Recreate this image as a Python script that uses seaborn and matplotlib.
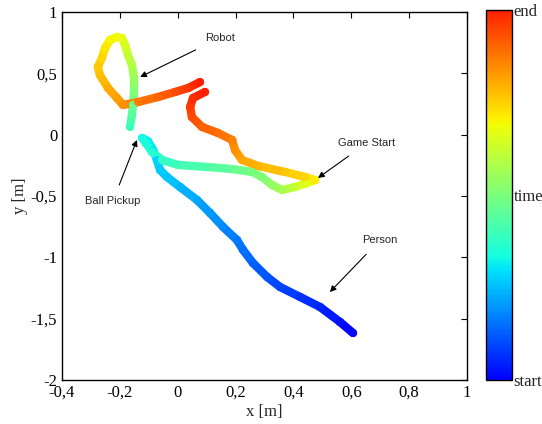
import numpy as np
import pandas as pd
import matplotlib
matplotlib.use("Agg")
import matplotlib.pyplot as plt
import seaborn as sns
from matplotlib.collections import LineCollection
from matplotlib.colors import ListedColormap, Normalize
from matplotlib.cm import ScalarMappable

# person trajectory (x, y in metres, t = normalised time)
person_x = [0.606, 0.561, 0.492, 0.423, 0.354, 0.309, 0.260, 0.226, 0.205, 0.157,
            0.112, 0.067, 0.008, -0.037, -0.061, -0.072, -0.085, -0.103, -0.123, -0.110,
            -0.089, -0.054, 0.001, 0.105, 0.188, 0.257, 0.291, 0.326, 0.361, 0.405,
            0.447, 0.475, 0.440, 0.371, 0.278, 0.222, 0.198, 0.188, 0.139, 0.084,
            0.049, 0.043, 0.053, 0.094]
person_y = [-1.617, -1.527, -1.405, -1.323, -1.242, -1.160, -1.046, -0.940, -0.859, -0.753,
            -0.639, -0.533, -0.427, -0.345, -0.288, -0.206, -0.125, -0.052, -0.027, -0.068,
            -0.141, -0.206, -0.247, -0.264, -0.280, -0.304, -0.345, -0.410, -0.451, -0.427,
            -0.394, -0.370, -0.345, -0.304, -0.255, -0.206, -0.125, -0.043, 0.014, 0.063,
            0.144, 0.226, 0.299, 0.348]
person_t = [0.00, 0.02, 0.05, 0.07, 0.09, 0.11, 0.13, 0.15, 0.16, 0.18,
            0.20, 0.22, 0.24, 0.26, 0.27, 0.28, 0.30, 0.31, 0.33, 0.34,
            0.36, 0.38, 0.40, 0.43, 0.46, 0.49, 0.51, 0.54, 0.57, 0.62,
            0.67, 0.71, 0.74, 0.76, 0.79, 0.81, 0.84, 0.86, 0.89, 0.91,
            0.94, 0.96, 0.98, 1.00]

# robot trajectory
robot_x = [-0.165, -0.158, -0.155, -0.151, -0.151, -0.158, -0.172, -0.182, -0.193, -0.210,
           -0.234, -0.251, -0.262, -0.276, -0.269, -0.241, -0.210, -0.189, -0.137, -0.068,
           -0.009, 0.036, 0.077]
robot_y = [0.063, 0.160, 0.242, 0.348, 0.462, 0.568, 0.649, 0.731, 0.788, 0.796,
           0.772, 0.707, 0.625, 0.552, 0.486, 0.380, 0.299, 0.242, 0.266, 0.307,
           0.348, 0.380, 0.429]
robot_t = [0.40, 0.44, 0.47, 0.51, 0.55, 0.59, 0.62, 0.65, 0.67, 0.69,
           0.70, 0.72, 0.74, 0.76, 0.77, 0.80, 0.82, 0.84, 0.87, 0.90,
           0.94, 0.97, 1.00]

x_ticks = [-0.4, -0.2, 0, 0.2, 0.4, 0.6, 0.8, 1]
y_ticks = [-2, -1.5, -1, -0.5, 0, 0.5, 1]
cbar_labels = ["start", "time", "end"]

# annotations: text, text position, arrow head position
notes = [
    ("Robot", (0.146, 0.788), (-0.130, 0.470)),
    ("Game Start", (0.654, -0.068), (0.485, -0.353)),
    ("Ball Pickup", (-0.224, -0.541), (-0.141, -0.043)),
    ("Person", (0.699, -0.859), (0.526, -1.283)),
]

sns.set_style("white")
plt.rcParams["font.family"] = ["Liberation Serif", "DejaVu Serif"]

cmap = ListedColormap(plt.cm.jet(np.linspace(0.125, 0.875, 256)))
norm = Normalize(0, 1)


def to_num(v):
    return f"{v:g}".replace(".", ",")


fig = plt.figure(figsize=(5.42, 4.24), dpi=100)
ax = fig.add_axes([0.1144, 0.1038, 0.7472, 0.8679])
cax = fig.add_axes([0.897, 0.104, 0.048, 0.873])

for xs, ys, ts in [(person_x, person_y, person_t), (robot_x, robot_y, robot_t)]:
    pts = np.column_stack([xs, ys])
    segs = np.stack([pts[:-1], pts[1:]], axis=1)
    tm = (np.array(ts[:-1]) + np.array(ts[1:])) / 2
    lc = LineCollection(segs, cmap=cmap, norm=norm, linewidths=6, capstyle="round",
                        joinstyle="round")
    lc.set_array(tm)
    ax.add_collection(lc)
    df = pd.DataFrame({"x": xs, "y": ys, "t": ts})
    sns.scatterplot(data=df, x="x", y="y", hue="t", palette=cmap, hue_norm=(0, 1),
                    s=34, linewidth=0, legend=False, ax=ax, zorder=3)

for txt, tpos, hpos in notes:
    ax.annotate(txt, xy=hpos, xytext=tpos, ha="center", va="center",
                fontsize=8, family=["Liberation Sans", "DejaVu Sans"],
                arrowprops=dict(arrowstyle="-|>", color="k", lw=0.8,
                                mutation_scale=9, shrinkA=6, shrinkB=0))

ax.set_xlim(-0.4, 1)
ax.set_ylim(-2, 1)
ax.set_xticks(x_ticks)
ax.set_xticklabels([to_num(v) for v in x_ticks])
ax.set_yticks(y_ticks)
ax.set_yticklabels([to_num(v) for v in y_ticks])
ax.set_xlabel("x [m]", fontsize=12, labelpad=2)
ax.set_ylabel("y [m]", fontsize=12, labelpad=2)
ax.tick_params(direction="in", length=4, width=0.8, top=True, right=True,
               labelsize=12, colors="k")
for sp in ax.spines.values():
    sp.set_color("k")
    sp.set_linewidth(1)

cb = fig.colorbar(ScalarMappable(norm=norm, cmap=cmap), cax=cax, ticks=[0, 0.5, 1])
cb.set_ticklabels(cbar_labels)
cax.tick_params(direction="in", length=3, width=0.8, left=True, right=True,
                labelsize=12, pad=1)
cb.outline.set_linewidth(1)
cb.outline.set_edgecolor("k")

fig.savefig("out.png", dpi=100)
